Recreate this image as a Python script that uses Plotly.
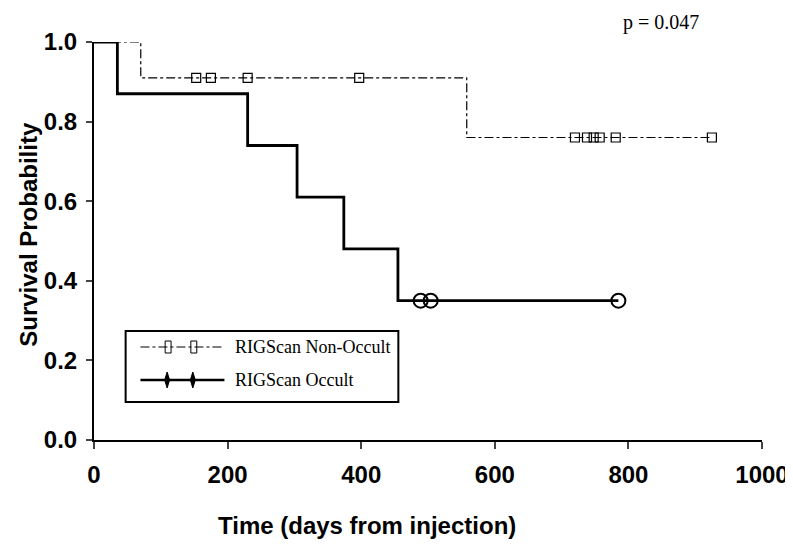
import plotly.graph_objects as go

# Kaplan-Meier curves (days from injection, survival probability)
occult_times = [0, 35, 230, 304, 374, 455, 785]
occult_surv = [1.0, 0.87, 0.74, 0.61, 0.48, 0.35, 0.35]
occult_censored = [489, 504, 785]

nonocc_times = [0, 70, 558, 925]
nonocc_surv = [1.0, 0.91, 0.76, 0.76]
nonocc_censored = [153, 175, 230, 397, 720, 738, 748, 757, 781, 925]

x_ticks = [0, 200, 400, 600, 800, 1000]
y_ticks = [0.0, 0.2, 0.4, 0.6, 0.8, 1.0]


def surv_at(times, surv, t):
    s = surv[0]
    for ti, si in zip(times, surv):
        if ti <= t:
            s = si
    return s


fig = go.Figure()

fig.add_trace(go.Scatter(x=nonocc_times, y=nonocc_surv, mode="lines", line_shape="hv",
                         line=dict(color="black", width=1.2, dash="dashdot"),
                         showlegend=False, cliponaxis=False))
fig.add_trace(go.Scatter(x=nonocc_censored,
                         y=[surv_at(nonocc_times, nonocc_surv, t) for t in nonocc_censored],
                         mode="markers", showlegend=False, cliponaxis=False,
                         marker=dict(symbol="square-open", size=9, color="black",
                                     line=dict(width=1.2))))
fig.add_trace(go.Scatter(x=occult_times, y=occult_surv, mode="lines", line_shape="hv",
                         line=dict(color="black", width=2.8),
                         showlegend=False, cliponaxis=False))
fig.add_trace(go.Scatter(x=occult_censored,
                         y=[surv_at(occult_times, occult_surv, t) for t in occult_censored],
                         mode="markers", showlegend=False, cliponaxis=False,
                         marker=dict(symbol="circle-open", size=14, color="black",
                                     line=dict(width=2))))

# plot area in pixels (for legend decoration)
L, T, W, H = 86, 34, 676, 398


def px(x):
    return (x - L) / W


def py(y):
    return (T + H - y) / H


shapes = [
    dict(type="rect", xref="paper", yref="paper", x0=px(118), x1=px(394), y0=py(323), y1=py(394),
         line=dict(color="black", width=2)),
    dict(type="line", xref="paper", yref="paper", x0=px(133), x1=px(218), y0=py(339), y1=py(339),
         line=dict(color="black", width=1, dash="dashdot")),
    dict(type="line", xref="paper", yref="paper", x0=px(133), x1=px(218), y0=py(372), y1=py(372),
         line=dict(color="black", width=2.5)),
]
for cx in (161, 187):
    shapes.append(dict(type="rect", xref="paper", yref="paper", x0=px(cx - 3), x1=px(cx + 3),
                       y0=py(333), y1=py(345), line=dict(color="black", width=1)))
for cx in (160, 186):
    shapes.append(dict(type="path", xref="paper", yref="paper",
                       path=f"M {px(cx)},{py(364)} L {px(cx + 2.5)},{py(372)} L {px(cx)},{py(380)} "
                            f"L {px(cx - 2.5)},{py(372)} Z",
                       fillcolor="black", line=dict(color="black", width=1)))

bold = dict(size=24, weight="bold", family="Liberation Sans", color="black")
serif = dict(family="Liberation Serif", size=18, color="black")

annotations = [
    dict(text="RIGScan Non-Occult", xref="paper", yref="paper", x=px(227), y=py(339),
         xanchor="left", yanchor="middle", showarrow=False, font=serif),
    dict(text="RIGScan Occult", xref="paper", yref="paper", x=px(227), y=py(372),
         xanchor="left", yanchor="middle", showarrow=False, font=serif),
    dict(text="p = 0.047", xref="paper", yref="paper", x=px(660), y=py(15),
         xanchor="center", yanchor="middle", showarrow=False,
         font=dict(family="Liberation Serif", size=20, color="black")),
    # axis titles placed as in the original (x title sits left of centre)
    dict(text="Time (days from injection)", xref="paper", yref="paper", x=px(362), y=py(517),
         xanchor="center", yanchor="middle", showarrow=False, font=bold),
    dict(text="Survival Probability", xref="paper", yref="paper", x=px(19), y=py(226),
         xanchor="center", yanchor="middle", showarrow=False, textangle=-90, font=bold),
]

fig.update_layout(
    width=793, height=551,
    margin=dict(l=L, r=793 - L - W, t=T, b=551 - T - H),
    paper_bgcolor="white", plot_bgcolor="white",
    shapes=shapes, annotations=annotations,
    font=dict(family="Liberation Sans", color="black"),
    xaxis=dict(range=[0, 1000], tickvals=x_ticks, ticks="outside", ticklen=7, tickwidth=2,
               showline=True, linecolor="black", linewidth=2, showgrid=False, zeroline=False,
               ticklabelstandoff=5, tickfont=bold),
    yaxis=dict(range=[0, 1.0], tickvals=y_ticks, tickformat=".1f", ticks="outside", ticklen=6,
               tickwidth=2, showline=True, linecolor="black", linewidth=2, showgrid=False,
               zeroline=False, ticklabelstandoff=4, tickfont=bold),
)

fig.write_html("out.html")
